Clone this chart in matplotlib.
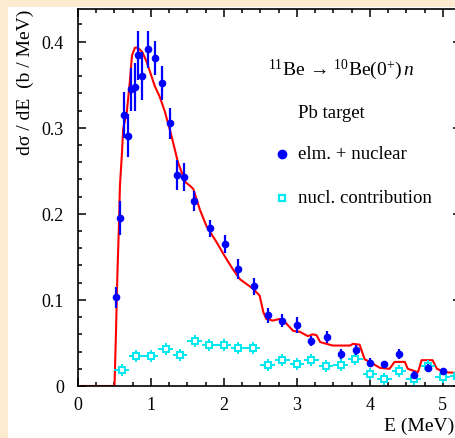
import matplotlib
matplotlib.use("Agg")
import matplotlib.pyplot as plt
from matplotlib.patches import Rectangle
from matplotlib.ticker import MultipleLocator

plt.rcParams['font.family'] = ['Liberation Serif', 'DejaVu Serif']
plt.rcParams['mathtext.fontset'] = 'custom'
plt.rcParams['mathtext.rm'] = 'Liberation Serif'
plt.rcParams['mathtext.it'] = 'Liberation Serif:italic'

# elm. + nuclear (blue points, y errors only)
e_tot = [0.52, 0.575, 0.63, 0.685, 0.73, 0.78, 0.82, 0.875, 0.96, 1.055, 1.15,
         1.26, 1.36, 1.45, 1.59, 1.81, 2.01, 2.2, 2.41, 2.6, 2.8, 3.0, 3.2,
         3.41, 3.6, 3.81, 4.0, 4.2, 4.4, 4.6, 4.8, 5.0]
s_tot = [0.103, 0.195, 0.315, 0.291, 0.345, 0.347, 0.384, 0.360, 0.391, 0.381,
         0.352, 0.305, 0.245, 0.243, 0.215, 0.183, 0.165, 0.136, 0.116, 0.082,
         0.076, 0.071, 0.052, 0.057, 0.037, 0.042, 0.027, 0.025, 0.037, 0.013,
         0.021, 0.017]
err_tot = [0.012, 0.02, 0.027, 0.025, 0.025, 0.028, 0.028, 0.028, 0.022, 0.02,
           0.02, 0.018, 0.017, 0.016, 0.012, 0.01, 0.01, 0.012, 0.01, 0.009,
           0.008, 0.009, 0.006, 0.007, 0.006, 0.006, 0.005, 0.004, 0.006,
           0.005, 0.005, 0.004]

# nuclear contribution (cyan open squares)
e_nuc = [0.6, 0.8, 1.0, 1.2, 1.4, 1.6, 1.8, 2.0, 2.2, 2.4, 2.6, 2.8, 3.0, 3.2,
         3.4, 3.6, 3.8, 4.0, 4.2, 4.4, 4.6, 4.8, 5.0, 5.2]
s_nuc = [0.019, 0.035, 0.035, 0.043, 0.036, 0.052, 0.048, 0.048, 0.044, 0.044,
         0.024, 0.030, 0.026, 0.030, 0.023, 0.024, 0.031, 0.014, 0.008, 0.017,
         0.008, 0.023, 0.010, 0.012]
err_nuc = 0.007
xerr_nuc = 0.1

# calculation (red curve)
e_calc = [0.0, 0.50, 0.52, 0.54, 0.56, 0.575, 0.60, 0.62, 0.67, 0.71, 0.74,
          0.78, 0.82, 0.88, 0.94, 1.05, 1.12, 1.19, 1.28, 1.37, 1.47, 1.53,
          1.58, 1.67, 1.76, 1.90, 2.01, 2.12, 2.22, 2.40, 2.49, 2.54, 2.58,
          2.67, 2.77, 2.84, 2.95, 3.04, 3.15, 3.22, 3.27, 3.32, 3.49, 3.73,
          3.77, 3.86, 3.93, 4.0, 4.14, 4.27, 4.34, 4.48, 4.52, 4.66, 4.71,
          4.86, 4.92, 5.03, 5.25]
s_calc = [0.0, 0.0, 0.06, 0.13, 0.183, 0.233, 0.267, 0.299, 0.319, 0.353,
          0.384, 0.393, 0.393, 0.388, 0.377, 0.349, 0.336, 0.319, 0.291, 0.260,
          0.237, 0.233, 0.229, 0.205, 0.186, 0.167, 0.151, 0.136, 0.124, 0.113,
          0.105, 0.086, 0.078, 0.076, 0.078, 0.074, 0.064, 0.063, 0.058, 0.060,
          0.059, 0.051, 0.047, 0.047, 0.049, 0.048, 0.031, 0.028, 0.021, 0.020,
          0.028, 0.028, 0.020, 0.016, 0.030, 0.030, 0.020, 0.016, 0.015]

fig = plt.figure(figsize=(4.55, 4.39), dpi=100)
fig.patch.set_facecolor('#FDEBD0')
# white slide panel behind the plot
fig.patches.append(Rectangle((8 / 455, 0), 1, 1 - 8 / 439, transform=fig.transFigure,
                             facecolor='white', edgecolor='none', zorder=-1))

ax = fig.add_axes([78 / 455, 52 / 439, 383 / 455, 377 / 439])
ax.set_zorder(1)
ax.set_facecolor('white')

ax.plot(e_calc, s_calc, color='red', lw=1.5, zorder=2)
ax.errorbar(e_tot, s_tot, yerr=err_tot, fmt='o', color='#0000FF', ms=4.5,
            elinewidth=1.6, capsize=0, zorder=4)
ax.errorbar(e_nuc, s_nuc, yerr=err_nuc, xerr=xerr_nuc, fmt='s', color='#00E8F0',
            mfc='white', mec='#00E8F0', ms=4.5, mew=1.4, elinewidth=1.4,
            capsize=0, zorder=3)

ax.set_xlim(0, 5.25)
ax.set_ylim(0, 0.438)
ax.xaxis.set_major_locator(MultipleLocator(1))
ax.xaxis.set_minor_locator(MultipleLocator(0.25))
ax.yaxis.set_minor_locator(MultipleLocator(0.02))
ax.set_yticks([0, 0.1, 0.2, 0.3, 0.4])
ax.set_yticklabels(['0', '0.1', '0.2', '0.3', '0.4'])
ax.tick_params(which='both', direction='in', top=True, right=True, width=1.1,
               labelsize=13)
ax.tick_params(which='major', length=5.5)
ax.tick_params(which='minor', length=3)
ax.tick_params(axis='y', pad=10)
ax.tick_params(axis='x', pad=7)
for sp in ax.spines.values():
    sp.set_linewidth(1.2)

fig.text(25 / 455, 1 - 10 / 439, 'd\u03c3 / dE  (b / MeV)', rotation=90,
         ha='center', va='top', fontsize=14)
fig.text(454 / 455, 1 - 426 / 439, 'E (MeV)', ha='right', va='center',
         fontsize=14)

fig.text(341 / 455, 1 - 70 / 439,
         r'$^{11}$Be$\,\rightarrow\,^{10}$Be(0$^{+}$)$\,n$',
         ha='center', va='center', fontsize=14)
fig.text(298 / 455, 1 - 113 / 439, 'Pb target', ha='left', va='center',
         fontsize=13.5)
fig.text(298 / 455, 1 - 155 / 439, 'elm. + nuclear', ha='left', va='center',
         fontsize=13.5)
fig.text(298 / 455, 1 - 199 / 439, 'nucl. contribution', ha='left',
         va='center', fontsize=13.5)
fig.add_artist(plt.Line2D([282 / 455], [1 - 155 / 439], marker='o', ms=6,
                          color='#0000FF', transform=fig.transFigure))
fig.add_artist(plt.Line2D([282 / 455], [1 - 199 / 439], marker='s', ms=5,
                          mfc='white', mec='#00E8F0', mew=1.6,
                          transform=fig.transFigure))

fig.savefig('out.png', dpi=100, facecolor=fig.get_facecolor())
